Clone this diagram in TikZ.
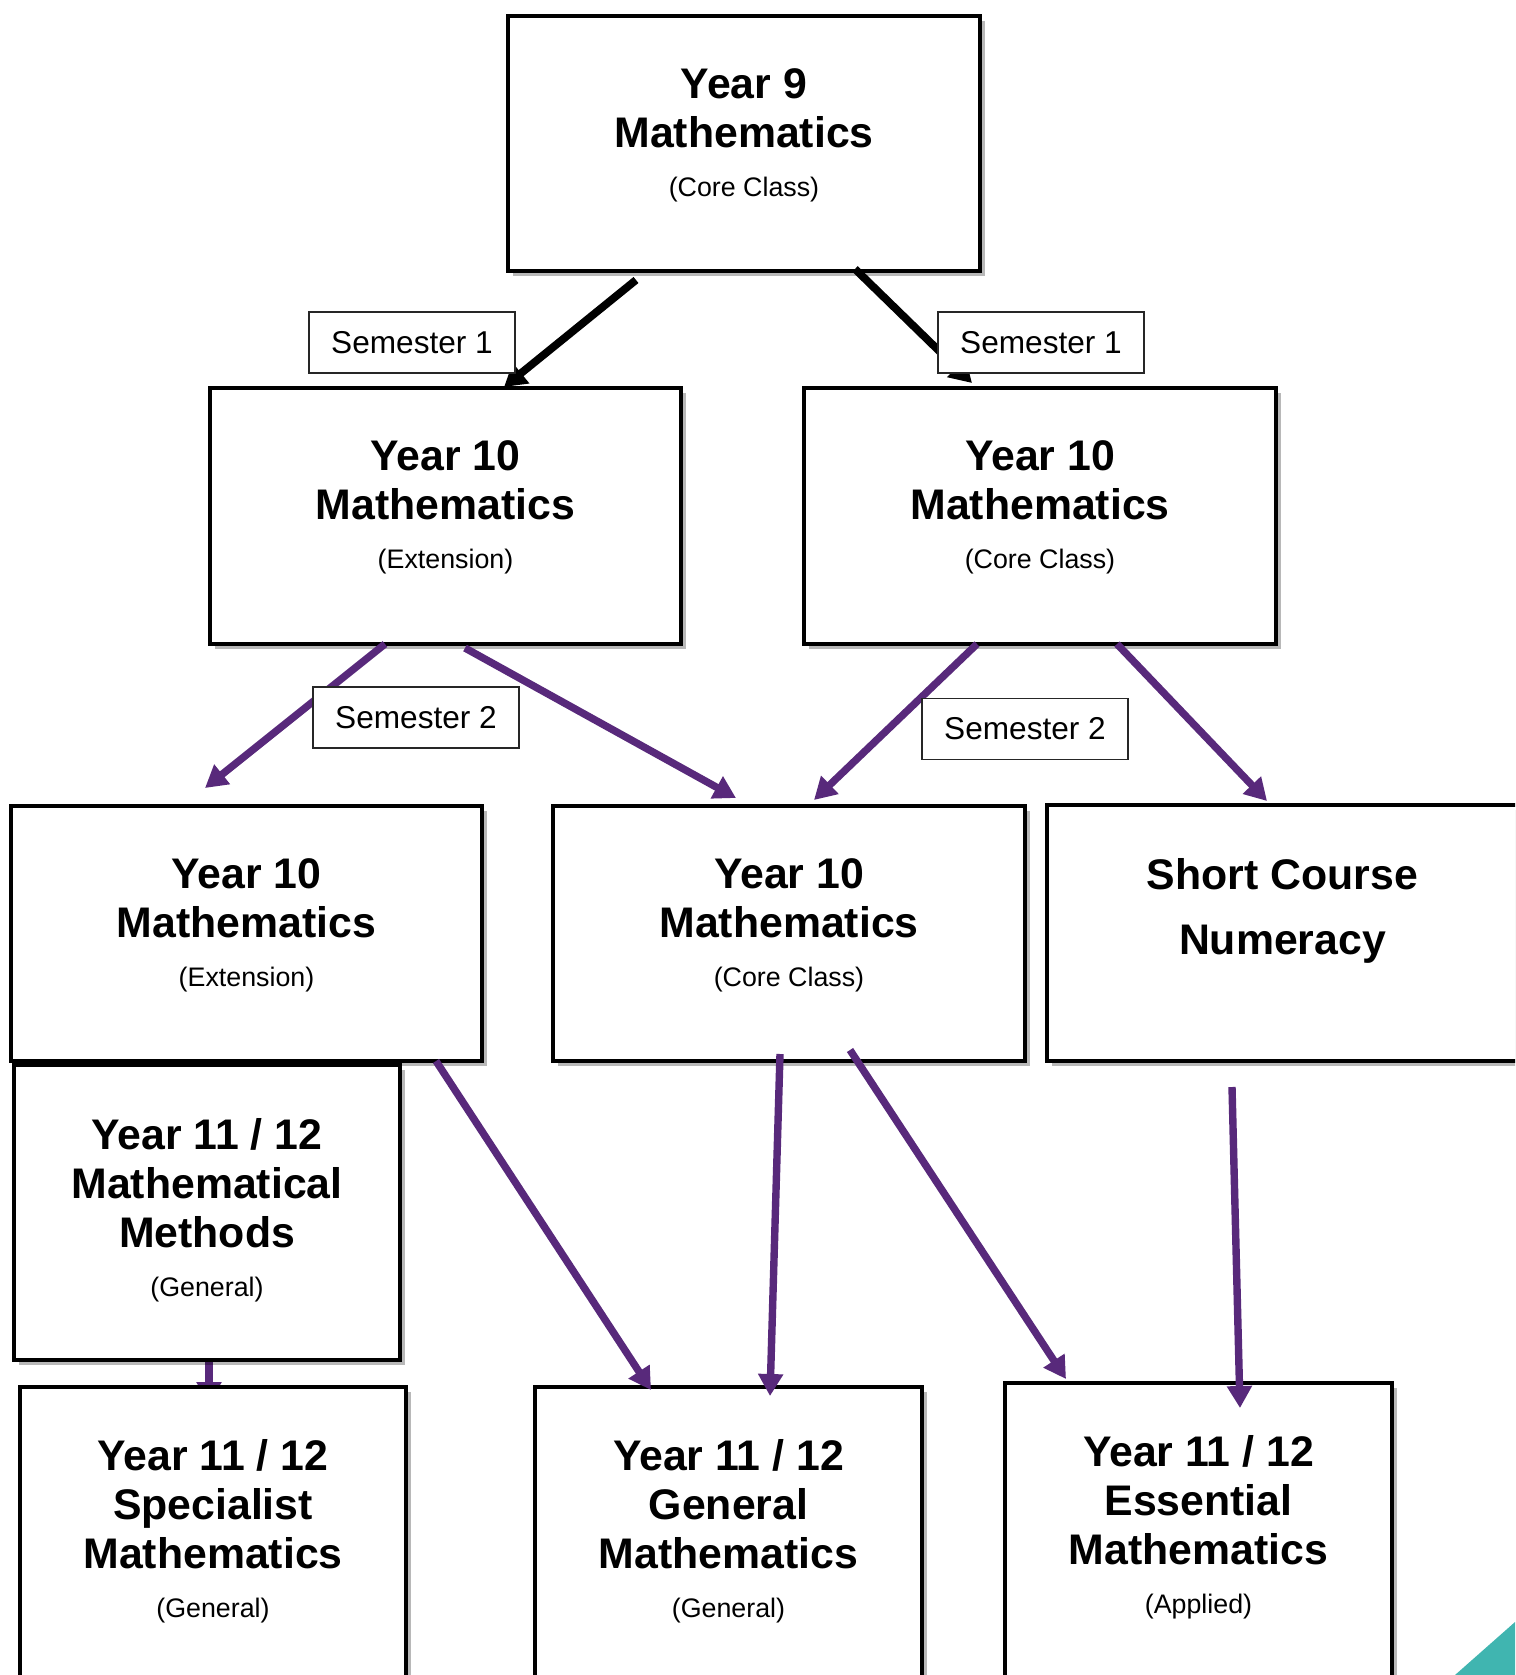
\documentclass[tikz,border=0pt]{standalone}
\usepackage{fontspec}
\setmainfont{Liberation Sans}
\usetikzlibrary{arrows.meta,shadows,calc}

\definecolor{pathpurple}{RGB}{88,41,123}
\definecolor{cornerteal}{RGB}{64,181,176}

\newcommand\coursefont{\fontsize{21.4}{24.5}\selectfont\bfseries}
\newcommand\subfont{\fontsize{13.4}{16}\selectfont\mdseries}

\pgfdeclarelayer{behind}
\pgfsetlayers{behind,main}

\begin{document}
\begin{tikzpicture}[x=0.5pt,y=-0.5pt,
  course/.style={draw=black, line width=1.6pt, fill=white, rectangle,
    inner sep=0pt, outer sep=0pt, anchor=north west,
    drop shadow={shadow xshift=2.5pt, shadow yshift=-2.5pt, opacity=0.28, fill=black}},
  coursetext/.style={anchor=north, align=center, inner sep=0pt, font=\coursefont},
  semlabel/.style={draw=black!85, line width=0.6pt, fill=white,
    minimum width=103pt, minimum height=30.5pt, inner sep=0pt,
    font=\fontsize{15.8}{18}\selectfont},
  blackarrow/.style={draw=black, line width=3.9pt, -{Triangle[length=11pt,width=12.5pt]}},
  purplearrow/.style={draw=pathpurple, line width=3.7pt, -{Triangle[length=11pt,width=12pt]}},
]
\useasboundingbox (0,0) rectangle (1515,1675);
\clip (0,0) rectangle (1515,1675);

% course boxes
\node[course, minimum width=236pt,   minimum height=127.5pt] (y9)      at (508,16)   {};
\node[course, minimum width=235.5pt, minimum height=128pt]   (ext1)    at (210,388)  {};
\node[course, minimum width=236pt,   minimum height=128pt]   (core1)   at (804,388)  {};
\node[course, minimum width=235.5pt, minimum height=127.5pt] (ext2)    at (11,806)   {};
\node[course, minimum width=236pt,   minimum height=127.5pt] (core2)   at (553,806)  {};
\node[course, minimum width=235.5pt, minimum height=128pt]   (short)   at (1047,805) {};
\node[course, minimum width=193pt,   minimum height=147.5pt] (methods) at (14,1065)  {};
\node[course, minimum width=193pt,   minimum height=160pt]   (spec)    at (20,1387)  {};
\node[course, minimum width=193.5pt, minimum height=160pt]   (gen)     at (535,1387) {};
\node[course, minimum width=193.5pt, minimum height=160pt]   (ess)     at (1005,1383){};

% course titles
\node[coursetext] (y9-t)      at ($(y9.north)+(0,52)$)      {Year 9\\Mathematics\\{\subfont (Core Class)}};
\node[coursetext] (ext1-t)    at ($(ext1.north)+(0,52)$)    {Year 10\\Mathematics\\{\subfont (Extension)}};
\node[coursetext] (core1-t)   at ($(core1.north)+(0,52)$)   {Year 10\\Mathematics\\{\subfont (Core Class)}};
\node[coursetext] (ext2-t)    at ($(ext2.north)+(0,52)$)    {Year 10\\Mathematics\\{\subfont (Extension)}};
\node[coursetext] (core2-t)   at ($(core2.north)+(0,52)$)   {Year 10\\Mathematics\\{\subfont (Core Class)}};
\node[coursetext] (short-t)   at ($(short.north)+(0,53)$)   {Short Course\\[8pt]Numeracy};
\node[coursetext] (methods-t) at ($(methods.north)+(0,53)$) {Year 11 / 12\\Mathematical\\Methods\\{\subfont (General)}};
\node[coursetext] (spec-t)    at ($(spec.north)+(0,52)$)    {Year 11 / 12\\Specialist\\Mathematics\\{\subfont (General)}};
\node[coursetext] (gen-t)     at ($(gen.north)+(0,52)$)     {Year 11 / 12\\General\\Mathematics\\{\subfont (General)}};
\node[coursetext] (ess-t)     at ($(ess.north)+(0,52)$)     {Year 11 / 12\\Essential\\Mathematics\\{\subfont (Applied)}};

% link from Methods into Specialist, tucked behind the box
\begin{pgfonlayer}{behind}
  \draw[purplearrow] ($(methods.south)+(2,0)$) -- ($(spec.north)+(-4,17)$);
\end{pgfonlayer}

% semester 1 pathways
\draw[blackarrow] ($(y9.south west)+(128,9)$) -- ($(ext1.north west)+(294,-1)$);
\draw[blackarrow] ($(y9.south west)+(347,-2)$) -- ($(core1.north west)+(168,-5)$);

% semester 2 pathways
\draw[purplearrow] ($(ext1.south west)+(175,0)$)  -- ($(ext2.north west)+(194,-18)$);
\draw[purplearrow] ($(ext1.south west)+(255,4)$)  -- ($(core2.north west)+(183,-8)$);
\draw[purplearrow] ($(core1.south west)+(173,0)$) -- ($(core2.north west)+(261,-6)$);
\draw[purplearrow] ($(core1.south west)+(313,0)$) -- ($(short.north west)+(220,-4)$);

% senior pathways
\draw[purplearrow] ($(ext2.south west)+(425,0)$)    -- ($(gen.north west)+(116,3)$);
\draw[purplearrow] ($(core2.south west)+(227,-7)$)  -- ($(gen.north west)+(235,9)$);
\draw[purplearrow] ($(core2.south west)+(297,-11)$) -- ($(ess.north west)+(61,-4)$);
\draw[purplearrow] ($(short.south west)+(185,26)$)  -- ($(ess.north west)+(235,25)$);

% semester labels
\node[semlabel] (sem1a) at (412,342.5)  {Semester 1};
\node[semlabel] (sem1b) at (1041,342.5) {Semester 1};
\node[semlabel] (sem2a) at (416,717.5)  {Semester 2};
\node[semlabel] (sem2b) at (1025,729)   {Semester 2};

% corner accent
\fill[cornerteal] (1455,1675) -- (1515,1622) -- (1515,1675) -- cycle;
\end{tikzpicture}
\end{document}
